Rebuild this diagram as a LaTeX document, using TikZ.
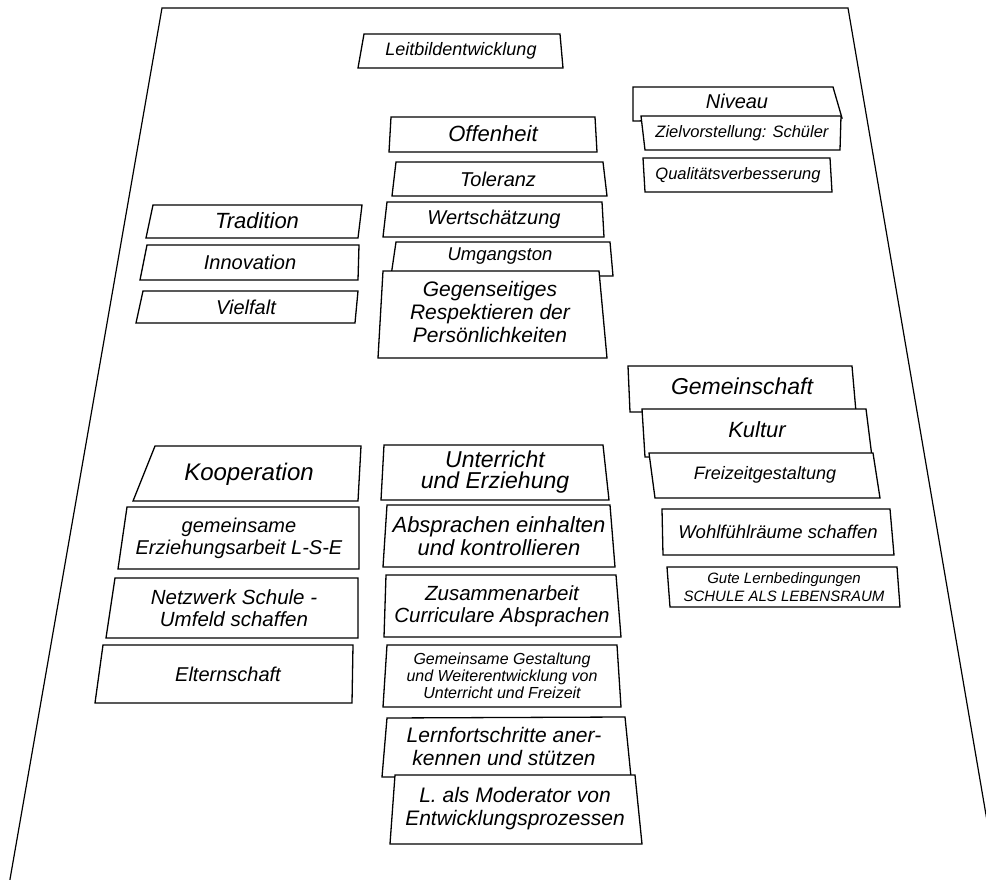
\documentclass[tikz,border=0pt]{standalone}
\usepackage{fontspec}
\setmainfont{Liberation Sans}
\newcommand{\fsz}[2]{\fontsize{#1}{#2}\selectfont\itshape}
\tikzset{
  boxline/.style={draw=black, fill=white, line width=1.3pt, line join=miter},
  lbl/.style={inner sep=0pt, align=center, text=black},
  frameline/.style={draw=black, line width=1.2pt}
}
\begin{document}
\begin{tikzpicture}[x=1pt,y=-1pt]
\useasboundingbox (0,0) rectangle (986,880);
\fill[white] (0,0) rectangle (986,880);
\begin{scope}
\clip (0,0) rectangle (986,880);
\draw[frameline] (9,885) -- (162,8) -- (848,8) -- (998,885);
\end{scope}

% Leitbild
\draw[boxline] (364,34) -- (560,34) -- (563,68) -- (358,68) -- cycle;
\node[lbl, font=\fsz{18}{20}] (leit) at (461,51) {Leitbildentwicklung};

% right top group
\draw[boxline] (633,87) -- (833,87) -- (842,118) -- (633,121) -- cycle;
\node[lbl, font=\fsz{20}{22}] (niveau) at (737,101) {Niveau};
\draw[boxline] (641,116) -- (841,116) -- (840,150) -- (645,150) -- cycle;
\node[lbl, font=\fsz{16.5}{18}] (ziel) at (742,133) {Zielvorstellung: Schüler};
\draw[boxline] (643,158) -- (830,158) -- (832,192) -- (645,192) -- cycle;
\node[lbl, font=\fsz{16.5}{18}] (qual) at (738,175) {Qualitätsverbesserung};

% centre top group
\draw[boxline] (391,117) -- (595,117) -- (597,152) -- (389,152) -- cycle;
\node[lbl, font=\fsz{22}{24}] (offen) at (493,134) {Offenheit};
\draw[boxline] (396,162) -- (603,162) -- (607,196) -- (392,196) -- cycle;
\node[lbl, font=\fsz{20}{22}] (toler) at (498,179) {Toleranz};
\draw[boxline] (387,202) -- (602,202) -- (604,237) -- (383,237) -- cycle;
\node[lbl, font=\fsz{20}{22}] (wert) at (494,219) {Wertschätzung};
\draw[boxline] (396,242) -- (610,242) -- (613,276) -- (391,276) -- cycle;
\node[lbl, font=\fsz{18.5}{20}] (umgang) at (500,256) {Umgangston};
\draw[boxline] (383,271) -- (599,271) -- (607,358) -- (378,358) -- cycle;
\node[lbl, font=\fsz{21}{23}] (respekt) at (490,312) {Gegenseitiges\\Respektieren der\\Persönlichkeiten};

% left top group
\draw[boxline] (153,205) -- (362,205) -- (358,238) -- (146,238) -- cycle;
\node[lbl, font=\fsz{22}{24}] (trad) at (257,221) {Tradition};
\draw[boxline] (147,245) -- (359,245) -- (358,280) -- (140,280) -- cycle;
\node[lbl, font=\fsz{20}{22}] (innov) at (250,262) {Innovation};
\draw[boxline] (143,291) -- (358,291) -- (355,323) -- (136,323) -- cycle;
\node[lbl, font=\fsz{20}{22}] (viel) at (246,307) {Vielfalt};

% right lower group
\draw[boxline] (628,366) -- (852,366) -- (856,412) -- (630,412) -- cycle;
\node[lbl, font=\fsz{23}{25}] (gemein) at (742,386) {Gemeinschaft};
\draw[boxline] (642,409) -- (866,409) -- (872,457) -- (645,457) -- cycle;
\node[lbl, font=\fsz{22}{24}] (kultur) at (757,430) {Kultur};
\draw[boxline] (649,453) -- (873,453) -- (880,498) -- (655,498) -- cycle;
\node[lbl, font=\fsz{18}{20}] (freizeit) at (765,475) {Freizeitgestaltung};
\draw[boxline] (662,509) -- (890,509) -- (894,555) -- (663,555) -- cycle;
\node[lbl, font=\fsz{18.5}{20}] (wohl) at (778,532) {Wohlfühlräume schaffen};
\draw[boxline] (667,567) -- (897,567) -- (900,607) -- (670,607) -- cycle;
\node[lbl, font=\fsz{15}{18}] (gute) at (784,587) {Gute Lernbedingungen\\SCHULE ALS LEBENSRAUM};

% left lower group
\draw[boxline] (155,446) -- (361,446) -- (358,501) -- (133,501) -- cycle;
\node[lbl, font=\fsz{24}{26}] (koop) at (249,474) {Kooperation};
\draw[boxline] (127,507) -- (359,507) -- (359,569) -- (118,569) -- cycle;
\node[lbl, font=\fsz{20}{22}] (erz) at (239,538) {gemeinsame\\Erziehungsarbeit L-S-E};
\draw[boxline] (115,578) -- (358,578) -- (358,638) -- (106,638) -- cycle;
\node[lbl, font=\fsz{20.5}{22}] (netz) at (234,608) {Netzwerk Schule -\\Umfeld schaffen};
\draw[boxline] (103,645) -- (353,645) -- (352,703) -- (95,703) -- cycle;
\node[lbl, font=\fsz{20}{22}] (eltern) at (228,674) {Elternschaft};

% centre lower group
\draw[boxline] (384,445) -- (603,445) -- (609,500) -- (381,500) -- cycle;
\node[lbl, font=\fsz{23}{21}] (unterr) at (495,472) {Unterricht\\und Erziehung};
\draw[boxline] (387,505) -- (610,505) -- (615,567) -- (383,567) -- cycle;
\node[lbl, font=\fsz{22}{23}] (abspr) at (499,536) {Absprachen einhalten\\und kontrollieren};
\draw[boxline] (386,575) -- (616,575) -- (621,637) -- (384,637) -- cycle;
\node[lbl, font=\fsz{20.5}{22}] (zus) at (502,606) {Zusammenarbeit\\Curriculare Absprachen};
\draw[boxline] (387,645) -- (617,645) -- (621,707) -- (383,707) -- cycle;
\node[lbl, font=\fsz{16}{17}] (gest) at (502,676) {Gemeinsame Gestaltung\\und Weiterentwicklung von\\Unterricht und Freizeit};
\draw[boxline] (387,718) -- (625,717) -- (631,777) -- (382,777) -- cycle;
\node[lbl, font=\fsz{21}{23}] (lern) at (504,746) {Lernfortschritte aner-\\kennen und stützen};
\draw[boxline] (395,775) -- (635,775) -- (642,844) -- (390,844) -- cycle;
\node[lbl, font=\fsz{21}{23}] (moder) at (515,809) {L. als Moderator von\\Entwicklungsprozessen};
\end{tikzpicture}
\end{document}
